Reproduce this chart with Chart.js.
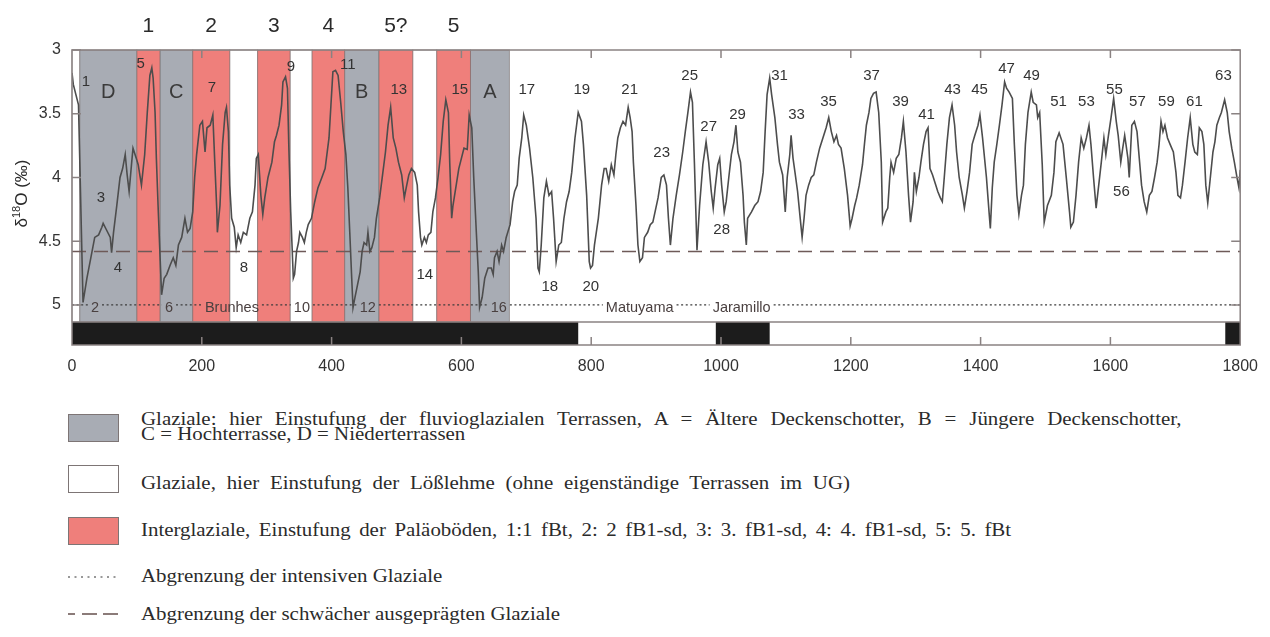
<!DOCTYPE html>
<html lang="de">
<head>
<meta charset="utf-8">
<title>δ18O-Kurve, Glaziale und Interglaziale</title>
<script src="https://cdn.jsdelivr.net/npm/chart.js"></script>
<style>
  body { margin: 0; background: #fff; }
  #wrap { position: relative; width: 1270px; height: 637px; overflow: hidden; }
  #chart { position: absolute; left: 0; top: 0; }
  .swatch { position: absolute; left: 68px; width: 49px; height: 26px; border: 1.5px solid #7d7575; }
  .key { position: absolute; left: 141px; font-family: "Liberation Serif", "Times New Roman", serif;
         font-size: 18.5px; line-height: 15px; color: #2b2b2b; white-space: nowrap;
         transform: scaleX(1.13); transform-origin: 0 0; }
  svg.sym { position: absolute; left: 66px; width: 56px; height: 10px; }
</style>
</head>
<body>
<div id="wrap">
  <canvas id="chart" width="1270" height="385"></canvas>

  <div class="swatch" style="top:414px; background:#a8acb4;"></div>
  <div class="key" data-right="1181" style="top:412px;">Glaziale: hier Einstufung der fluvioglazialen Terrassen, A = Ältere Deckenschotter, B = Jüngere Deckenschotter,</div>
  <div class="key" style="top:427px;">C = Hochterrasse, D = Niederterrassen</div>

  <div class="swatch" style="top:465px; background:#fff;"></div>
  <div class="key" data-right="850" style="top:476px;">Glaziale, hier Einstufung der Lößlehme (ohne eigenständige Terrassen im UG)</div>

  <div class="swatch" style="top:517px; background:#ef7f7b;"></div>
  <div class="key" data-right="1011" style="top:523px;">Interglaziale, Einstufung der Paläoböden, 1:1 fBt, 2: 2 fB1-sd, 3: 3. fB1-sd, 4: 4. fB1-sd, 5: 5. fBt</div>

  <svg class="sym" style="top:572px;" viewBox="0 0 56 10"><line x1="2" y1="5" x2="54" y2="5" stroke="#777" stroke-width="1.4" stroke-dasharray="2 4.5"/></svg>
  <div class="key" style="top:569px;">Abgrenzung der intensiven Glaziale</div>

  <svg class="sym" style="top:609px;" viewBox="0 0 56 10">
    <line x1="2" y1="5" x2="9" y2="5" stroke="#6e5a58" stroke-width="1.6"/>
    <line x1="16" y1="5" x2="31" y2="5" stroke="#6e5a58" stroke-width="1.6"/>
    <line x1="37" y1="5" x2="52" y2="5" stroke="#6e5a58" stroke-width="1.6"/>
  </svg>
  <div class="key" style="top:607px;">Abgrenzung der schwächer ausgeprägten Glaziale</div>
</div>

<script>
// Alter in ka, δ18O in Promille (Skala umgekehrt)
const ageKyr = [
  0, 2, 10, 17, 23, 29, 35, 41, 46, 48, 53, 59, 61, 64, 69, 74, 78, 82, 85, 88,
  92, 94, 99, 102, 107, 112, 116, 120, 123, 125, 128, 130, 133, 136, 138, 142, 146, 151, 156, 160,
  164, 169, 174, 178, 182, 186, 189, 192, 197, 201, 205, 208, 213, 217, 220, 223, 224, 228, 232, 236,
  238, 241, 243, 246, 250, 253, 256, 260, 264, 269, 274, 278, 282, 284, 287, 291, 294, 297, 302, 308,
  312, 315, 319, 323, 325, 329, 332, 334, 337, 341, 343, 346, 349, 351, 355, 358, 361, 364, 369, 374,
  379, 385, 390, 392, 396, 399, 402, 406, 410, 414, 418, 422, 425, 428, 431, 433, 436, 440, 444, 447,
  450, 454, 456, 459, 462, 466, 469, 474, 479, 483, 487, 491, 495, 499, 503, 508, 512, 515, 519, 523,
  528, 532, 534, 537, 539, 543, 546, 549, 553, 556, 560, 564, 568, 572, 576, 580, 582, 585, 587, 592,
  596, 600, 604, 609, 612, 616, 619, 623, 626, 628, 632, 636, 641, 646, 649, 651, 655, 658, 662, 665,
  669, 675, 679, 682, 686, 689, 693, 696, 700, 705, 710, 715, 718, 720, 723, 727, 731, 735, 739, 742,
  746, 750, 754, 758, 762, 766, 770, 775, 780, 785, 788, 793, 797, 799, 802, 805, 811, 816, 820, 823,
  827, 831, 835, 838, 841, 845, 849, 853, 857, 860, 863, 865, 869, 872, 875, 879, 882, 887, 891, 895,
  903, 908, 912, 916, 919, 922, 926, 931, 936, 941, 945, 949, 953, 956, 959, 963, 967, 972, 977, 981,
  985, 988, 991, 995, 998, 1001, 1005, 1008, 1012, 1016, 1020, 1023, 1026, 1030, 1034, 1036, 1039, 1041, 1047, 1052,
  1057, 1061, 1065, 1068, 1071, 1075, 1078, 1083, 1087, 1090, 1095, 1099, 1102, 1106, 1108, 1111, 1114, 1118, 1123, 1125,
  1128, 1131, 1135, 1139, 1143, 1147, 1152, 1157, 1162, 1166, 1170, 1174, 1178, 1181, 1185, 1190, 1195, 1199, 1202, 1206,
  1209, 1213, 1218, 1221, 1224, 1228, 1231, 1235, 1239, 1243, 1247, 1249, 1254, 1257, 1260, 1262, 1266, 1270, 1274, 1278,
  1281, 1285, 1289, 1292, 1296, 1298, 1301, 1305, 1308, 1312, 1316, 1319, 1322, 1326, 1331, 1334, 1338, 1341, 1344, 1348,
  1352, 1356, 1360, 1363, 1367, 1372, 1375, 1379, 1383, 1387, 1391, 1396, 1399, 1403, 1409, 1413, 1415, 1418, 1421, 1425,
  1429, 1433, 1437, 1440, 1444, 1449, 1452, 1456, 1459, 1463, 1466, 1469, 1473, 1478, 1481, 1486, 1488, 1491, 1495, 1498,
  1503, 1509, 1513, 1516, 1521, 1527, 1532, 1537, 1539, 1543, 1547, 1551, 1555, 1559, 1563, 1567, 1570, 1574, 1578, 1582,
  1586, 1590, 1593, 1597, 1601, 1605, 1609, 1612, 1616, 1619, 1622, 1624, 1627, 1629, 1633, 1637, 1641, 1645, 1648, 1652,
  1656, 1660, 1664, 1668, 1672, 1675, 1678, 1681, 1684, 1688, 1692, 1697, 1701, 1704, 1708, 1711, 1715, 1719, 1723, 1727,
  1730, 1734, 1737, 1741, 1744, 1747, 1750, 1754, 1758, 1761, 1764, 1768, 1771, 1776, 1780, 1783, 1787, 1791, 1795, 1798,
  1800
];
const d18O = [
  3.18, 3.27, 3.43, 4.98, 4.79, 4.63, 4.47, 4.45, 4.39, 4.36, 4.41, 4.47, 4.59, 4.43, 4.22, 4.00, 3.93, 3.82, 3.98, 4.11,
  3.88, 3.77, 3.85, 3.90, 4.06, 3.82, 3.49, 3.20, 3.14, 3.22, 3.49, 3.85, 4.27, 4.66, 4.92, 4.79, 4.76, 4.69, 4.63, 4.69,
  4.53, 4.47, 4.32, 4.43, 4.40, 4.27, 4.00, 3.82, 3.59, 3.56, 3.80, 3.61, 3.59, 3.51, 3.88, 4.24, 4.43, 4.22, 3.74, 3.49,
  3.45, 3.64, 4.06, 4.32, 4.39, 4.55, 4.45, 4.51, 4.43, 4.45, 4.32, 4.27, 4.06, 3.85, 3.82, 4.14, 4.29, 4.16, 4.00, 3.88,
  3.72, 3.67, 3.59, 3.43, 3.25, 3.21, 3.30, 3.74, 4.27, 4.79, 4.76, 4.58, 4.51, 4.43, 4.47, 4.51, 4.43, 4.37, 4.32, 4.19,
  4.08, 4.00, 3.93, 3.85, 3.69, 3.43, 3.17, 3.16, 3.20, 3.41, 3.64, 3.82, 4.08, 4.43, 4.79, 5.02, 4.94, 4.84, 4.74, 4.58,
  4.51, 4.53, 4.43, 4.58, 4.55, 4.47, 4.32, 4.16, 3.96, 3.80, 3.59, 3.45, 3.69, 3.77, 3.88, 3.98, 4.16, 4.08, 3.98, 3.93,
  3.96, 4.06, 4.27, 4.47, 4.53, 4.47, 4.51, 4.45, 4.43, 4.27, 4.16, 4.00, 3.82, 3.56, 3.39, 3.49, 3.88, 4.32, 4.22, 4.06,
  3.93, 3.85, 3.77, 3.78, 3.51, 3.61, 4.00, 4.43, 4.74, 5.02, 4.94, 4.79, 4.71, 4.71, 4.76, 4.63, 4.58, 4.66, 4.53, 4.58,
  4.47, 4.37, 4.19, 4.11, 4.06, 3.85, 3.69, 3.51, 3.59, 3.77, 4.00, 4.32, 4.71, 4.74, 4.53, 4.16, 4.03, 4.14, 4.11, 4.32,
  4.66, 4.53, 4.51, 4.32, 4.19, 4.11, 3.96, 3.69, 3.49, 3.56, 3.74, 4.14, 4.66, 4.71, 4.69, 4.53, 4.32, 4.06, 3.93, 3.93,
  4.03, 3.90, 3.98, 3.82, 3.69, 3.61, 3.56, 3.59, 3.45, 3.53, 3.64, 3.88, 4.22, 4.53, 4.66, 4.63, 4.47, 4.43, 4.37, 4.35,
  4.16, 4.00, 3.98, 4.06, 4.32, 4.53, 4.32, 4.14, 3.98, 3.80, 3.64, 3.49, 3.33, 3.41, 3.88, 4.57, 4.22, 3.90, 3.72, 3.88,
  4.11, 4.24, 4.08, 3.90, 3.85, 4.06, 4.27, 4.19, 4.00, 3.82, 3.72, 3.59, 3.80, 3.88, 4.14, 4.35, 4.53, 4.32, 4.27, 4.22,
  4.19, 4.11, 3.96, 3.64, 3.35, 3.22, 3.35, 3.53, 3.74, 3.88, 3.98, 4.27, 4.00, 3.82, 3.67, 3.85, 3.96, 4.11, 4.37, 4.47,
  4.32, 4.14, 4.06, 4.00, 3.98, 3.88, 3.77, 3.69, 3.61, 3.53, 3.64, 3.72, 3.67, 3.74, 3.77, 3.93, 4.14, 4.38, 4.32, 4.22,
  4.16, 4.06, 3.90, 3.74, 3.59, 3.49, 3.38, 3.34, 3.33, 3.49, 3.88, 4.35, 4.27, 4.24, 4.00, 3.88, 3.96, 3.85, 3.82, 3.69,
  3.56, 3.80, 4.14, 4.35, 4.19, 3.96, 4.11, 4.00, 3.88, 3.74, 3.64, 3.61, 3.93, 3.98, 4.06, 4.11, 4.16, 4.19, 4.00, 3.74,
  3.53, 3.43, 3.59, 3.80, 4.00, 4.14, 4.24, 4.11, 3.96, 3.74, 3.67, 3.59, 3.51, 3.69, 4.00, 4.27, 4.40, 4.08, 3.88, 3.74,
  3.59, 3.43, 3.25, 3.30, 3.33, 3.38, 3.74, 4.14, 4.29, 4.14, 4.06, 3.74, 3.49, 3.33, 3.41, 3.43, 3.53, 3.49, 3.90, 4.35,
  4.22, 4.14, 3.96, 3.72, 3.65, 3.74, 4.00, 4.27, 4.39, 4.35, 4.14, 3.88, 3.69, 3.77, 3.69, 3.59, 3.74, 4.00, 4.24, 4.06,
  3.88, 3.69, 3.82, 3.67, 3.53, 3.38, 3.56, 3.67, 3.88, 3.77, 3.67, 3.74, 3.85, 4.00, 3.59, 3.56, 3.64, 3.88, 4.06, 4.19,
  4.27, 4.14, 4.11, 4.00, 3.88, 3.74, 3.56, 3.64, 3.59, 3.69, 3.74, 3.80, 3.96, 4.14, 4.16, 4.06, 3.88, 3.69, 3.53, 3.74,
  3.80, 3.82, 3.61, 3.64, 3.74, 4.06, 4.20, 4.00, 3.80, 3.72, 3.59, 3.53, 3.49, 3.39, 3.49, 3.64, 3.77, 3.88, 4.00, 4.08,
  3.94
];

const xTicks = [0, 200, 400, 600, 800, 1000, 1200, 1400, 1600, 1800];
const yTicks = [3, 3.5, 4, 4.5, 5];

// Glaziale mit Terrassen (grau), Lößlehm-Glaziale (weiß), Interglaziale (rot), in ka
const terraceGlacials = [[12, 100], [135.5, 186], [420, 473], [614, 674]];
const terraceLetters = ['D', 'C', 'B', 'A'];
const loessGlacials = [[0, 12], [243, 286], [336, 370], [525, 562]];
const interglacials = [[100, 135.5], [186, 243], [286, 336], [370, 420], [473, 525], [562, 614]];
const soilLabels = ['1', '2', '3', '4', '5?', '5'];

// Grenzlinien
const intensiveLimit = 5.0;
const weakLimit = 4.58;

// Paläomagnetik: Normal-Polarität (schwarz)
const normalChrons = [[0, 780], [992, 1075], [1777, 1800]];
const polarityTop = 5.133;
const yBottom = 5.314;

// Isotopenstadien [ka, δ18O, Text]
const stageLabels = [
  [21.6, 3.25, '1'], [44.7, 4.16, '3'], [70.8, 4.71, '4'], [106, 3.11, '5'], [215.6, 3.30, '7'],
  [264.9, 4.71, '8'], [337.3, 3.13, '9'], [425, 3.12, '11'], [503.6, 3.31, '13'], [543.6, 4.76, '14'],
  [597.5, 3.31, '15'], [700.7, 3.31, '17'], [736.1, 4.86, '18'], [785.4, 3.31, '19'], [799.3, 4.86, '20'],
  [859.3, 3.31, '21'], [908.6, 3.81, '23'], [951.7, 3.20, '25'], [981, 3.60, '27'], [1001, 4.41, '28'],
  [1025.6, 3.51, '29'], [1090.3, 3.20, '31'], [1116.5, 3.51, '33'], [1165.8, 3.41, '35'], [1232, 3.20, '37'],
  [1276.7, 3.41, '39'], [1316.7, 3.51, '41'], [1356.7, 3.31, '43'], [1398.3, 3.31, '45'], [1439.9, 3.15, '47'],
  [1478.4, 3.20, '49'], [1520, 3.41, '51'], [1563.1, 3.41, '53'], [1606.2, 3.31, '55'], [1617, 4.11, '56'],
  [1641.6, 3.41, '57'], [1686.3, 3.41, '59'], [1729.4, 3.41, '61'], [1774.1, 3.20, '63']
];
// Beschriftungen auf der Linie der intensiven Glaziale [ka, Text]
const limitLabels = [
  [35.4, '2'], [149.4, '6'], [246.4, 'Brunhes'], [354.2, '10'], [455.8, '12'],
  [657.6, '16'], [874.7, 'Matuyama'], [1031.8, 'Jaramillo']
];

const SANS = '"Liberation Sans", Arial, Helvetica, sans-serif';

const stagesPlugin = {
  id: 'stages',
  beforeDatasetsDraw(chart) {
    const { ctx, chartArea: a, scales: { x, y } } = chart;
    const barTop = y.getPixelForValue(polarityTop);

    const band = (r, fill) => {
      const x0 = x.getPixelForValue(r[0]);
      const x1 = x.getPixelForValue(r[1]);
      ctx.fillStyle = fill;
      ctx.fillRect(x0, a.top, x1 - x0, barTop - a.top);
      ctx.strokeStyle = 'rgba(110,100,100,0.55)';
      ctx.lineWidth = 1;
      ctx.strokeRect(x0, a.top, x1 - x0, barTop - a.top);
    };
    ctx.save();
    loessGlacials.forEach(r => band(r, '#ffffff'));
    terraceGlacials.forEach(r => band(r, '#a8acb4'));
    interglacials.forEach(r => band(r, '#ef7f7b'));

    // Polaritätsbalken
    ctx.fillStyle = '#1c1c1c';
    normalChrons.forEach(r => {
      const x0 = x.getPixelForValue(r[0]);
      const x1 = x.getPixelForValue(r[1]);
      ctx.fillRect(x0, barTop, x1 - x0, a.bottom - barTop);
    });

    // schwächer ausgeprägte Glaziale
    const yw = y.getPixelForValue(weakLimit);
    ctx.strokeStyle = '#6e5a58';
    ctx.lineWidth = 1.6;
    ctx.setLineDash([14, 8]);
    ctx.beginPath();
    ctx.moveTo(a.left, yw);
    ctx.lineTo(a.right, yw);
    ctx.stroke();

    // intensive Glaziale, mit Lücken für die Beschriftung
    const yi = y.getPixelForValue(intensiveLimit);
    ctx.font = '14.5px ' + SANS;
    const gaps = limitLabels.map(l => {
      const cx = x.getPixelForValue(l[0]);
      const w = ctx.measureText(l[1]).width / 2 + 3;
      return [cx - w, cx + w];
    });
    ctx.strokeStyle = '#3c3c3c';
    ctx.lineWidth = 1.3;
    ctx.setLineDash([2, 2.6]);
    let start = a.left;
    ctx.beginPath();
    gaps.forEach(g => {
      ctx.moveTo(start, yi);
      ctx.lineTo(g[0], yi);
      start = g[1];
    });
    ctx.moveTo(start, yi);
    ctx.lineTo(a.right, yi);
    ctx.stroke();
    ctx.restore();
  },
  afterDatasetsDraw(chart) {
    const { ctx, chartArea: a, scales: { x, y } } = chart;
    const barTop = y.getPixelForValue(polarityTop);
    ctx.save();
    ctx.textAlign = 'center';
    ctx.textBaseline = 'middle';

    ctx.fillStyle = '#333';
    ctx.font = '15px ' + SANS;
    stageLabels.forEach(l => ctx.fillText(l[2], x.getPixelForValue(l[0]), y.getPixelForValue(l[1])));

    ctx.fillStyle = '#4a4040';
    ctx.font = '14.5px ' + SANS;
    limitLabels.forEach(l => ctx.fillText(l[1], x.getPixelForValue(l[0]), y.getPixelForValue(5.02)));

    // Terrassenbuchstaben
    ctx.fillStyle = '#3a3a3a';
    ctx.font = '20px ' + SANS;
    terraceGlacials.forEach((r, i) =>
      ctx.fillText(terraceLetters[i], x.getPixelForValue((r[0] + r[1]) / 2), y.getPixelForValue(3.33)));

    // Paläoböden über dem Diagramm
    ctx.fillStyle = '#2a2a2a';
    ctx.font = '21px ' + SANS;
    interglacials.forEach((r, i) =>
      ctx.fillText(soilLabels[i], x.getPixelForValue((r[0] + r[1]) / 2), a.top - 24));

    // Rahmen und nach innen zeigende Striche
    ctx.strokeStyle = '#8a8282';
    ctx.lineWidth = 1.5;
    ctx.strokeRect(a.left, a.top, a.right - a.left, a.bottom - a.top);
    ctx.beginPath();
    ctx.moveTo(a.left, barTop);
    ctx.lineTo(a.right, barTop);
    xTicks.slice(1, -1).forEach(v => {
      const px = x.getPixelForValue(v);
      ctx.moveTo(px, a.top);
      ctx.lineTo(px, a.top + 8);
      ctx.moveTo(px, a.bottom);
      ctx.lineTo(px, a.bottom - 8);
    });
    yTicks.forEach(v => {
      const py = y.getPixelForValue(v);
      ctx.moveTo(a.left, py);
      ctx.lineTo(a.left + 9, py);
      ctx.moveTo(a.right, py);
      ctx.lineTo(a.right - 9, py);
    });
    ctx.stroke();

    // Achsentitel δ18O (‰)
    ctx.translate(27, (a.top + a.bottom) / 2 - 4);
    ctx.rotate(-Math.PI / 2);
    ctx.textAlign = 'left';
    ctx.textBaseline = 'alphabetic';
    ctx.fillStyle = '#2a2a2a';
    const big = '17px ' + SANS, small = '11px ' + SANS;
    ctx.font = big;
    const w1 = ctx.measureText('δ').width;
    const w3 = ctx.measureText('O (‰)').width;
    ctx.font = small;
    const w2 = ctx.measureText('18').width;
    let cx = -(w1 + w2 + w3) / 2;
    ctx.font = big;
    ctx.fillText('δ', cx, 0);
    cx += w1;
    ctx.font = small;
    ctx.fillText('18', cx, -7);
    cx += w2;
    ctx.font = big;
    ctx.fillText('O (‰)', cx, 0);
    ctx.restore();
  }
};

new Chart(document.getElementById('chart'), {
  type: 'line',
  data: {
    datasets: [{
      data: ageKyr.map((a, i) => ({ x: a, y: d18O[i] })),
      borderColor: '#4d4d4d',
      borderWidth: 1.6,
      pointRadius: 0,
      tension: 0,
      fill: false
    }]
  },
  options: {
    responsive: false,
    animation: false,
    layout: { padding: { top: 50, right: 29, left: 0, bottom: 0 } },
    plugins: { legend: { display: false }, tooltip: { enabled: false } },
    scales: {
      x: {
        type: 'linear',
        min: 0,
        max: 1800,
        afterBuildTicks: s => { s.ticks = xTicks.map(v => ({ value: v })); },
        afterFit: s => { s.height = 40; },
        grid: { display: false, drawTicks: false },
        border: { display: false },
        ticks: {
          autoSkip: false,
          maxRotation: 0,
          padding: 12,
          color: '#333',
          font: { family: SANS, size: 16 },
          callback: v => String(v)
        }
      },
      y: {
        type: 'linear',
        reverse: true,
        min: 3,
        max: yBottom,
        afterBuildTicks: s => { s.ticks = yTicks.map(v => ({ value: v })); },
        afterFit: s => { s.width = 72; },
        grid: { display: false, drawTicks: false },
        border: { display: false },
        ticks: {
          padding: 11,
          color: '#333',
          font: { family: SANS, size: 16 },
          callback: v => String(v)
        }
      }
    }
  },
  plugins: [stagesPlugin]
});

// Legendenzeilen mit Zielende: Wortabstand so erweitern, dass die Zeile dort endet
const KEY_SCALE = 1.13;
document.querySelectorAll('.key[data-right]').forEach(el => {
  const target = (Number(el.dataset.right) - el.offsetLeft) / KEY_SCALE;
  const spaces = (el.textContent.match(/ /g) || []).length;
  const extra = (target - el.offsetWidth) / spaces;
  el.style.wordSpacing = extra.toFixed(2) + 'px';
});
</script>
</body>
</html>
